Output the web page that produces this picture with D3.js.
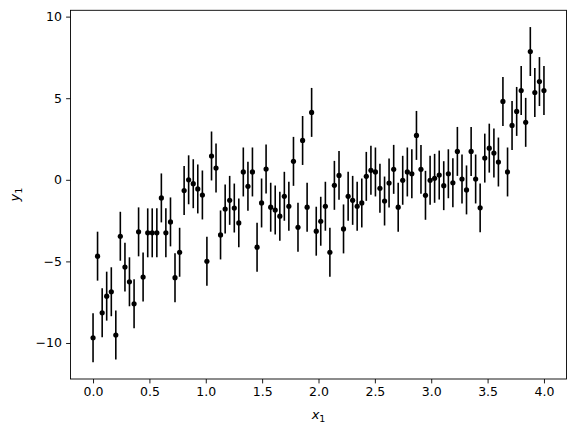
<!DOCTYPE html>
<meta charset="utf-8">
<style>
body { margin: 0; background: #fff; }
.axis text { font: 12.5px "DejaVu Sans", sans-serif; fill: #000; }
.axis line { stroke: #000; stroke-width: 0.9px; }
.axis path { display: none; }
.frame { fill: none; stroke: #000; stroke-width: 0.9px; }
.errbar { stroke: #000; stroke-width: 1.6px; }
.dot { fill: #000; }
.label { font: 13px "DejaVu Sans", sans-serif; fill: #000; }
</style>
<body>
<script src="https://d3js.org/d3.v7.min.js"></script>
<script>

// x positions of the points
var xValues = [
  0.000, 0.040, 0.081, 0.121, 0.162, 0.202, 0.242, 0.283, 0.323, 0.364,
  0.404, 0.444, 0.485, 0.525, 0.566, 0.606, 0.646, 0.687, 0.727, 0.768,
  0.808, 0.848, 0.889, 0.929, 0.970, 1.010, 1.051, 1.091, 1.131, 1.172,
  1.212, 1.253, 1.293, 1.333, 1.374, 1.414, 1.455, 1.495, 1.535, 1.576,
  1.616, 1.657, 1.697, 1.737, 1.778, 1.818, 1.859, 1.899, 1.939, 1.980,
  2.020, 2.061, 2.101, 2.141, 2.182, 2.222, 2.263, 2.303, 2.343, 2.384,
  2.424, 2.465, 2.505, 2.545, 2.586, 2.626, 2.667, 2.707, 2.747, 2.788,
  2.828, 2.869, 2.909, 2.949, 2.990, 3.030, 3.071, 3.111, 3.152, 3.192,
  3.232, 3.273, 3.313, 3.354, 3.394, 3.434, 3.475, 3.515, 3.556, 3.596,
  3.636, 3.677, 3.717, 3.758, 3.798, 3.838, 3.879, 3.919, 3.960, 4.000
];

// measured y values
var yValues = [
  -9.68, -4.68, -8.15, -7.13, -6.86, -9.51, -3.46, -5.35, -6.25, -7.60,
  -3.19, -5.96, -3.25, -3.25, -3.25, -1.11, -3.25, -2.58, -6.00, -4.44,
  -0.66, 0.00, -0.24, -0.56, -0.93, -4.99, 1.46, 0.72, -3.38, -1.79,
  -1.26, -1.73, -2.64, 0.48, -0.40, 0.48, -4.13, -1.42, 0.66, -1.68,
  -1.85, -2.23, -1.01, -1.62, 1.13, -2.91, 2.41, -1.68, 4.13, -3.15,
  -2.54, -1.62, -4.44, -0.34, 0.27, -3.01, -1.01, -1.26, -1.62, -1.42,
  0.21, 0.58, 0.48, -0.52, -1.30, -0.20, 0.64, -1.68, -0.03, 0.48,
  0.37, 2.72, 0.64, -0.95, -0.03, 0.09, 0.29, -0.36, 0.37, -0.18,
  1.74, 0.05, -0.62, 1.74, 0.05, -1.72, 1.33, 1.94, 1.64, 1.09,
  4.80, 0.48, 3.33, 4.19, 5.47, 3.52, 7.86, 5.35, 6.02, 5.47
];

// symmetric error on every point
var yErr = 1.5;

var xTicks = [0, 0.5, 1, 1.5, 2, 2.5, 3, 3.5, 4];
var yTicks = [-10, -5, 0, 5, 10];

var data = xValues.map(function(x, i) { return {x: x, y: yValues[i]}; });

var margin = {top: 10.3, right: 8.5, bottom: 54, left: 70.5},
    width = 575 - margin.left - margin.right,
    height = 433 - margin.top - margin.bottom;

// matplotlib-like 5% padding around the data (error bars included)
function padded(lo, hi) {
  var p = (hi - lo) * 0.05;
  return [lo - p, hi + p];
}

var x = d3.scaleLinear()
    .domain(padded(d3.min(xValues), d3.max(xValues)))
    .range([0, width]);
var y = d3.scaleLinear()
    .domain(padded(d3.min(yValues) - yErr, d3.max(yValues) + yErr))
    .range([height, 0]);

var svg = d3.select("body").append("svg")
    .attr("width", 575)
    .attr("height", 433)
  .append("g")
    .attr("transform", "translate(" + margin.left + "," + margin.top + ")");

// error bars
svg.selectAll(".errbar")
    .data(data)
  .enter().append("line")
    .attr("class", "errbar")
    .attr("x1", function(d) { return x(d.x); })
    .attr("x2", function(d) { return x(d.x); })
    .attr("y1", function(d) { return y(d.y - yErr); })
    .attr("y2", function(d) { return y(d.y + yErr); });

// points
svg.selectAll(".dot")
    .data(data)
  .enter().append("circle")
    .attr("class", "dot")
    .attr("r", 2.6)
    .attr("cx", function(d) { return x(d.x); })
    .attr("cy", function(d) { return y(d.y); });

// axes
svg.append("g")
    .attr("class", "axis")
    .attr("transform", "translate(0," + height + ")")
    .call(d3.axisBottom(x).tickValues(xTicks).tickFormat(d3.format(".1f"))
        .tickSize(4.4).tickPadding(4.2));

svg.append("g")
    .attr("class", "axis")
    .call(d3.axisLeft(y).tickValues(yTicks).tickFormat(d3.format("d"))
        .tickSize(4.4).tickPadding(4.2));

svg.append("rect")
    .attr("class", "frame")
    .attr("width", width)
    .attr("height", height);

// axis labels
var xl = svg.append("text")
    .attr("class", "label")
    .attr("x", width / 2)
    .attr("y", height + 40)
    .attr("text-anchor", "middle");
xl.append("tspan").style("font-style", "italic").text("x");
xl.append("tspan").attr("dy", 3).style("font-size", "9.5px").text("1");

var yl = svg.append("text")
    .attr("class", "label")
    .attr("transform", "translate(" + (-52) + "," + (height / 2) + ") rotate(-90)")
    .attr("text-anchor", "middle");
yl.append("tspan").style("font-style", "italic").text("y");
yl.append("tspan").attr("dy", 3).style("font-size", "9.5px").text("1");

</script>
</body>
